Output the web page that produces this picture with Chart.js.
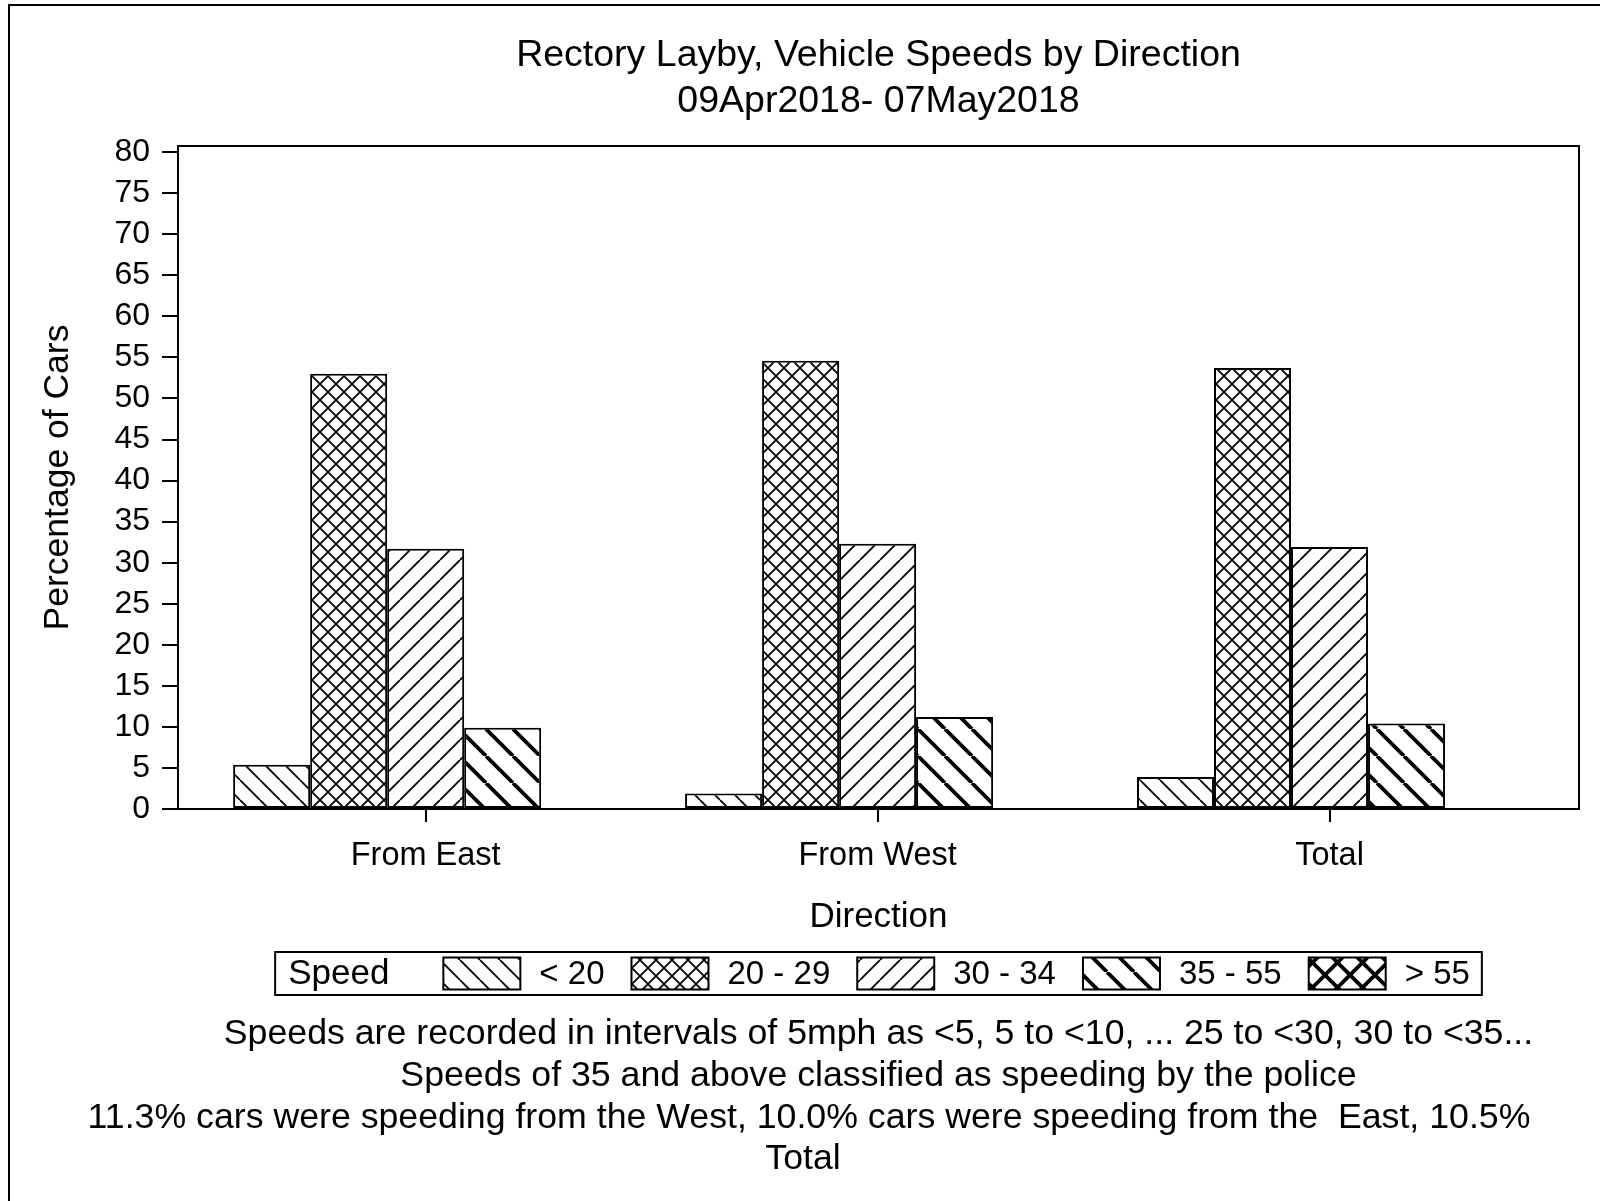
<!DOCTYPE html>
<html>
<head>
<meta charset="utf-8">
<title>Rectory Layby, Vehicle Speeds by Direction</title>
<script src="https://cdn.jsdelivr.net/npm/chart.js@4.4.1/dist/chart.umd.min.js"></script>
<style>
  html, body { margin: 0; padding: 0; background: #fff; }
  #wrap { width: 1600px; height: 1201px; }
</style>
</head>
<body>
<div id="wrap"><canvas id="speedChart" width="1600" height="1201"></canvas></div>
<script>
// chart data (percent of cars)
const directions = ['From East', 'From West', 'Total'];
const speedBands = ['< 20', '20 - 29', '30 - 34', '35 - 55', '> 55'];
const under20    = [5.4, 1.9, 3.9];
const speed20to29 = [53.0, 54.6, 53.7];
const speed30to34 = [31.7, 32.3, 31.9];
const speed35to55 = [9.9, 11.2, 10.4];
const over55     = [0.1, 0.1, 0.1];
const yMin = 0, yMax = 80.75, yStep = 5;

const titleLines = ['Rectory Layby, Vehicle Speeds by Direction', '09Apr2018- 07May2018'];
const footnotes = [
  'Speeds are recorded in intervals of 5mph as <5, 5 to <10, ... 25 to <30, 30 to <35...',
  'Speeds of 35 and above classified as speeding by the police',
  '11.3% cars were speeding from the West, 10.0% cars were speeding from the  East, 10.5%',
  'Total'
];

const FONT = '"Liberation Sans", Arial, sans-serif';
Chart.defaults.font.family = FONT;
Chart.defaults.color = '#000';

const canvas = document.getElementById('speedChart');
const ctx = canvas.getContext('2d');

// hatch fills like the SAS patterns
function hatch(size, width, dirs) {
  const tile = document.createElement('canvas');
  tile.width = tile.height = size;
  const t = tile.getContext('2d');
  t.fillStyle = '#fff';
  t.fillRect(0, 0, size, size);
  t.strokeStyle = '#000';
  t.lineWidth = width;
  t.beginPath();
  for (const d of [-size, 0, size]) {
    if (dirs.includes('\\')) { t.moveTo(d, 0); t.lineTo(d + size, size); }
    if (dirs.includes('/')) { t.moveTo(d, size); t.lineTo(d + size, 0); }
  }
  t.stroke();
  return ctx.createPattern(tile, 'repeat');
}

const patterns = [
  hatch(20, 1.8, '\\'),
  hatch(16, 1.8, '\\/'),
  hatch(20, 1.8, '/'),
  hatch(27, 3.8, '\\'),
  hatch(25, 3.8, '\\/')
];
const seriesValues = [under20, speed20to29, speed30to34, speed35to55, over55];

const datasets = speedBands.map((band, k) => ({
  label: band,
  data: seriesValues[k].map((v, i) => ({ x: i, y: v })),
  backgroundColor: patterns[k],
  borderColor: '#000',
  borderWidth: 2,
  borderSkipped: false,
  barPercentage: 1.0,
  categoryPercentage: 0.852
}));

// frame, outer border, legend and footnotes
const decorations = {
  id: 'decorations',
  afterDatasetsDraw(chart) {
    const { ctx, chartArea: a } = chart;
    ctx.save();
    ctx.strokeStyle = '#000';
    ctx.lineWidth = 2;
    ctx.strokeRect(a.left, a.top, a.right - a.left, a.bottom - a.top);
    ctx.restore();
  },
  afterDraw(chart) {
    const { ctx, chartArea: a } = chart;
    const cx = (a.left + a.right) / 2;
    ctx.save();
    ctx.strokeStyle = '#000';
    ctx.lineWidth = 2;
    ctx.beginPath();
    ctx.moveTo(9, 1201); ctx.lineTo(9, 5); ctx.lineTo(1600, 5);
    ctx.stroke();

    // legend
    const headFont = '35px ' + FONT;
    const itemFont = '33px ' + FONT;
    ctx.font = headFont;
    const headW = ctx.measureText('Speed').width;
    ctx.font = itemFont;
    const textW = speedBands.map(s => ctx.measureText(s).width);
    const sw = 77, sh = 32, padL = 13, padR = 12, gapHead = 54, gapSw = 19, gapItem = 27;
    let total = padL + headW + gapHead + padR;
    textW.forEach((w, i) => { total += sw + gapSw + w + (i < textW.length - 1 ? gapItem : 0); });
    const bx = cx - total / 2, by = 952, bh = 43;
    const midY = by + bh / 2;
    ctx.lineWidth = 2;
    ctx.strokeRect(bx, by, total, bh);
    ctx.fillStyle = '#000';
    ctx.textBaseline = 'middle';
    ctx.textAlign = 'left';
    ctx.font = headFont;
    ctx.fillText('Speed', bx + padL, midY + 1);
    let x = bx + padL + headW + gapHead;
    ctx.font = itemFont;
    speedBands.forEach((s, i) => {
      ctx.fillStyle = patterns[i];
      ctx.fillRect(x, midY - sh / 2, sw, sh);
      ctx.strokeRect(x, midY - sh / 2, sw, sh);
      x += sw + gapSw;
      ctx.fillStyle = '#000';
      ctx.fillText(s, x, midY + 1);
      x += textW[i] + gapItem;
    });

    // footnotes
    ctx.font = '35.7px ' + FONT;
    ctx.textAlign = 'center';
    const noteY = [1034, 1076, 1118, 1159];
    const noteX = [cx, cx, 809, 803];
    footnotes.forEach((n, i) => ctx.fillText(n, noteX[i], noteY[i]));
    ctx.restore();
  }
};

new Chart(ctx, {
  type: 'bar',
  data: { datasets },
  plugins: [decorations],
  options: {
    responsive: false,
    animation: false,
    devicePixelRatio: 1,
    layout: { padding: { left: 37, right: 21, top: 0, bottom: 262 } },
    plugins: {
      legend: { display: false },
      tooltip: { enabled: false },
      title: {
        display: true,
        fullSize: false,
        text: titleLines,
        color: '#000',
        font: { size: 37.5, weight: 'normal', lineHeight: 1.24 },
        padding: { top: 32, bottom: 21 }
      }
    },
    scales: {
      x: {
        type: 'linear',
        min: -0.548,
        max: 2.552,
        offset: false,
        afterFit: s => { s.height = 130; },
        border: { display: true, color: '#000', width: 2 },
        grid: { display: true, offset: false, drawOnChartArea: false, drawTicks: true, tickLength: 13, color: '#000', lineWidth: 2 },
        ticks: {
          stepSize: 1,
          includeBounds: false,
          autoSkip: false,
          maxRotation: 0,
          padding: 15,
          font: { size: 32.5 },
          color: '#000',
          callback: v => directions[v] ?? ''
        },
        title: { display: true, text: 'Direction', font: { size: 35 }, padding: { top: 0, bottom: 1 }, color: '#000' }
      },
      y: {
        min: yMin,
        max: yMax,
        afterFit: s => { s.width = 141; },
        border: { display: true, color: '#000', width: 2 },
        grid: { display: true, drawOnChartArea: false, drawTicks: true, tickLength: 16, color: '#000', lineWidth: 2 },
        ticks: { stepSize: yStep, includeBounds: false, padding: 12, font: { size: 32 }, color: '#000', autoSkip: false },
        title: { display: true, text: 'Percentage of Cars', font: { size: 35.5 }, padding: { top: 0, bottom: 0 }, color: '#000' }
      }
    }
  }
});
</script>
</body>
</html>
